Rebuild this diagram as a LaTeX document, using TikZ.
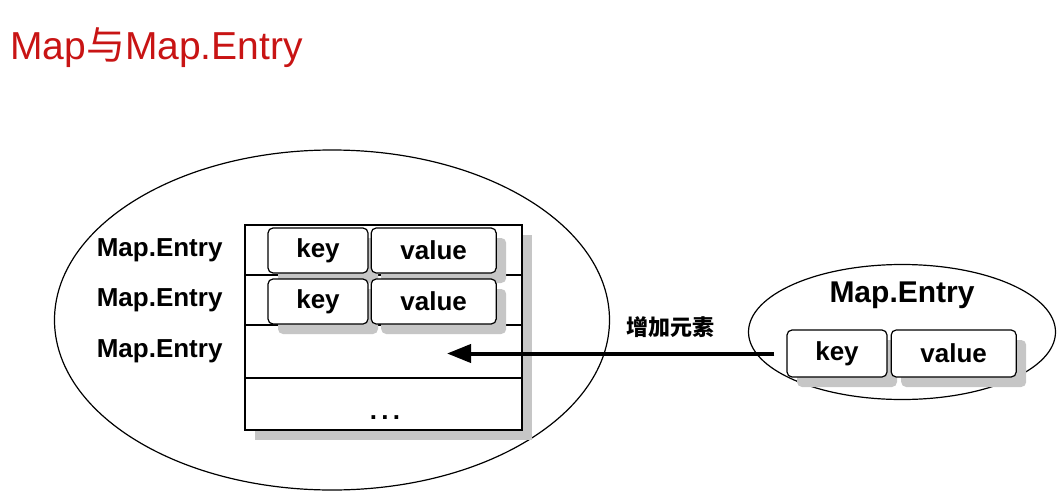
\documentclass[tikz,border=0pt]{standalone}
\usepackage{fontspec}
\setmainfont{Liberation Sans}
\newfontfamily\cjk{Noto Sans CJK SC}
\usepackage{tikz}
\usetikzlibrary{positioning,arrows.meta,shapes.geometric,shadows}
\definecolor{titlered}{RGB}{200,20,20}

\begin{document}
\begin{tikzpicture}[x=1pt, y=-1pt,
      every node/.style = {font=\bfseries\fontsize{26}{30}\selectfont},
      oval/.style   = {ellipse, draw, line width=1.2pt},
      tblrow/.style = {rectangle, draw, fill=white, line width=1.5pt,
                       minimum width=277pt, inner sep=0pt, outer sep=0pt},
      kvbox/.style  = {rectangle, draw, rounded corners=5pt, fill=white,
                       line width=1.2pt, minimum height=45pt, inner sep=0pt,
                       drop shadow={shadow xshift=10pt, shadow yshift=-10pt,
                                    fill=gray!45, opacity=1}},
      addarrow/.style = {-{Triangle[length=24pt,width=18pt]}, line width=4pt}
    ]
    \useasboundingbox (0,0) rectangle (1059,500);

    % title
    \node[anchor=west, font=\fontsize{39}{44}\selectfont, text=titlered,
          inner sep=0pt] (title) at (10,48) {Map{\cjk 与}Map.Entry};

    % the map
    \node[oval, minimum width=555pt, minimum height=340pt] (map) at (332,320) {};
    \node[tblrow, minimum height=205pt,
          drop shadow={shadow xshift=10pt, shadow yshift=-10pt,
                       fill=gray!45, opacity=1}] (tbl) at (383.5,327.5) {};
    \node[tblrow, minimum height=50pt] (row1) at (383.5,250) {};
    \node[tblrow, minimum height=50pt, below=0pt of row1] (row2) {};
    \node[tblrow, minimum height=53pt, below=0pt of row2] (row3) {};
    \node[tblrow, minimum height=52pt, below=0pt of row3] (row4) {};
    \node (dots) at (385,418) {.\,.\,.};

    \node[left=19pt of row1] (lbl1) {Map.Entry};
    \node[left=19pt of row2] (lbl2) {Map.Entry};
    \node[left=19pt of row3] (lbl3) {Map.Entry};

    \node[kvbox, minimum width=100pt] (key1) at (318,250.5) {key};
    \node[kvbox, minimum width=125pt, right=2pt of key1] (val1) {value};
    \node[kvbox, minimum width=100pt] (key2) at (318,301.5) {key};
    \node[kvbox, minimum width=125pt, right=2pt of key2] (val2) {value};

    % the new entry
    \node[oval, minimum width=307pt, minimum height=135pt] (entry) at (902,332) {};
    \node[font=\bfseries\fontsize{30}{34}\selectfont] (etitle) at (902,295) {Map.Entry};
    \node[kvbox, minimum width=100pt, minimum height=47pt] (key3) at (837,353.5) {key};
    \node[kvbox, minimum width=125pt, minimum height=47pt,
          right=3pt of key3] (val3) {value};

    \coordinate (slot) at (447,353.5);
    \draw[addarrow] ([xshift=-12pt]key3.west) -- (slot);
    \node[font=\cjk\bfseries\fontsize{22}{26}\selectfont] (addlbl) at (670,327) {增加元素};
  \end{tikzpicture}
\end{document}
